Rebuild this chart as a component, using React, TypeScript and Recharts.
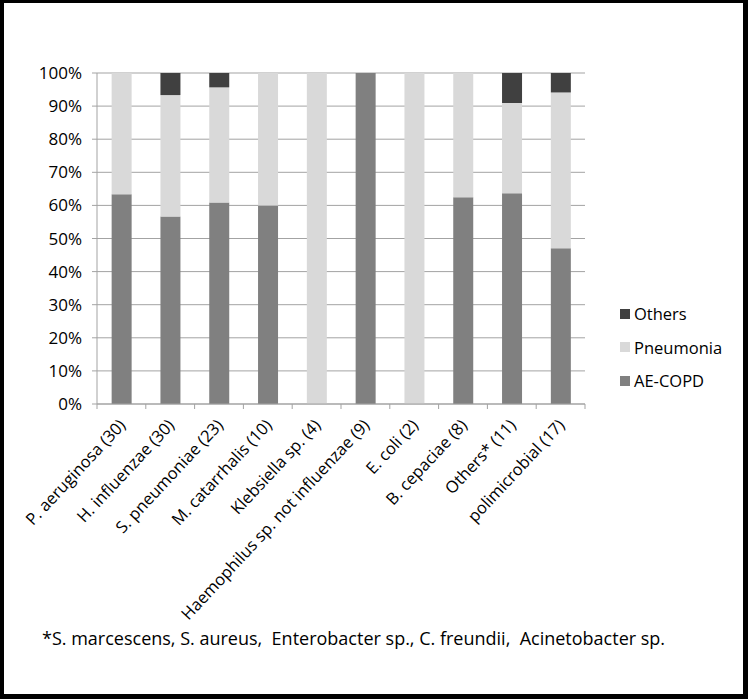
import React from 'react';
import {
  BarChart,
  Bar,
  XAxis,
  YAxis,
  CartesianGrid,
  Legend,
} from 'recharts';

const categories = [
  'P. aeruginosa (30)',
  'H. influenzae (30)',
  'S. pneumoniae (23)',
  'M. catarrhalis (10)',
  'Klebsiella sp. (4)',
  'Haemophilus sp. not influenzae (9)',
  'E. coli (2)',
  'B. cepaciae (8)',
  'Others* (11)',
  'polimicrobial (17)',
];

// case counts per isolate, shown as a share of each column
const aeCopd = [19, 17, 14, 6, 0, 9, 0, 5, 7, 8];
const pneumonia = [11, 11, 8, 4, 4, 0, 2, 3, 3, 8];
const others = [0, 2, 1, 0, 0, 0, 0, 0, 1, 1];

const yTicks = [0, 0.1, 0.2, 0.3, 0.4, 0.5, 0.6, 0.7, 0.8, 0.9, 1];

const series = [
  { key: 'aeCopd', name: 'AE-COPD', color: '#808080' },
  { key: 'pneumonia', name: 'Pneumonia', color: '#d9d9d9' },
  { key: 'others', name: 'Others', color: '#404040' },
];

const data = categories.map((name, i) => ({
  name,
  aeCopd: aeCopd[i],
  pneumonia: pneumonia[i],
  others: others[i],
}));

const FONT = '"Open Sans", sans-serif';
const GRID = '#a3a3a3';

function CategoryTick(props: any) {
  const { x, y, payload, index } = props;
  const half = payload.offset ?? 0;
  const last = index === categories.length - 1;
  const tx = x + 5;
  const ty = y + 17;
  return (
    <g>
      <line x1={x - half} y1={y - 5} x2={x - half} y2={y} stroke={GRID} />
      {last && <line x1={x + half} y1={y - 5} x2={x + half} y2={y} stroke={GRID} />}
      <text
        x={tx}
        y={ty}
        transform={`rotate(-47 ${tx} ${ty})`}
        textAnchor="end"
        fontFamily={FONT}
        fontSize={16.5}
        fill="#000"
      >
        {payload.value}
      </text>
    </g>
  );
}

function LegendBox() {
  return (
    <div style={{ width: 120, fontFamily: FONT, fontSize: 16.5, color: '#000' }}>
      {[...series].reverse().map((s) => (
        <div key={s.key} style={{ display: 'flex', alignItems: 'center', height: 33.5 }}>
          <span style={{ width: 10, height: 10, background: s.color, marginRight: 4 }} />
          {s.name}
        </div>
      ))}
    </div>
  );
}

export default function App() {
  return (
    <div style={{ position: 'absolute', left: 0, top: 0, width: 748, height: 699, background: '#fff' }}>
      <BarChart
        width={748}
        height={699}
        data={data}
        stackOffset="expand"
        barCategoryGap="30%"
        margin={{ top: 73, right: 43, bottom: 95, left: 37 }}
      >
        <CartesianGrid vertical={false} stroke={GRID} />
        <XAxis
          dataKey="name"
          interval={0}
          height={200}
          tickLine={false}
          tickSize={5}
          tickMargin={0}
          axisLine={{ stroke: GRID }}
          tick={<CategoryTick />}
        />
        <YAxis
          width={60}
          domain={[0, 1]}
          ticks={yTicks}
          tickFormatter={(v: number) => `${Math.round(v * 100)}%`}
          tickSize={5}
          tickMargin={10}
          axisLine={{ stroke: GRID }}
          tickLine={{ stroke: GRID }}
          tick={{ fill: '#000', fontFamily: FONT, fontSize: 17 }}
        />
        <Legend
          layout="vertical"
          align="right"
          verticalAlign="top"
          content={<LegendBox />}
          wrapperStyle={{ position: 'absolute', left: 620, top: 297, width: 120 }}
        />
        {series.map((s) => (
          <Bar
            key={s.key}
            dataKey={s.key}
            name={s.name}
            stackId="a"
            fill={s.color}
            isAnimationActive={false}
          />
        ))}
      </BarChart>
      <div
        style={{
          position: 'absolute',
          left: 42,
          top: 626,
          fontFamily: FONT,
          fontSize: 18,
          color: '#000',
          whiteSpace: 'pre',
        }}
      >
        {'*S. marcescens, S. aureus,  Enterobacter sp., C. freundii,  Acinetobacter sp.'}
      </div>
      <div
        style={{
          position: 'absolute',
          left: 0,
          top: 0,
          width: 748,
          height: 699,
          boxSizing: 'border-box',
          borderStyle: 'solid',
          borderColor: '#000',
          borderWidth: '3px 5px 5px 4px',
          pointerEvents: 'none',
        }}
      />
    </div>
  );
}
